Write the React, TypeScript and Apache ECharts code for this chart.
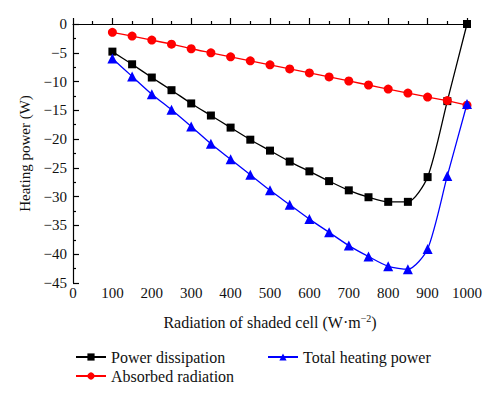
import React, { useEffect, useRef } from "react";
import * as echarts from "echarts";

const xValues = [100, 150, 200, 250, 300, 350, 400, 450, 500, 550, 600, 650, 700, 750, 800, 850, 900, 950, 1000];
const powerDissipation = [-4.8, -7.0, -9.3, -11.5, -13.8, -15.9, -18.0, -20.1, -22.0, -23.9, -25.6, -27.3, -28.9, -30.1, -30.9, -30.9, -26.6, -13.4, 0];
const absorbedRadiation = [-1.45, -2.1, -2.8, -3.5, -4.3, -5.0, -5.7, -6.4, -7.1, -7.8, -8.5, -9.2, -9.9, -10.6, -11.3, -12.0, -12.7, -13.3, -14.1];
const totalHeatingPower = [-6.0, -9.1, -12.2, -14.9, -17.8, -20.8, -23.5, -26.2, -28.9, -31.4, -33.9, -36.2, -38.5, -40.4, -42.1, -42.6, -39.1, -26.4, -13.9];

const seriesNames = ["Power dissipation", "Absorbed radiation", "Total heating power"];
const FONT = "'Liberation Serif', 'DejaVu Serif', serif";

export default function App() {
  const ref = useRef<HTMLDivElement>(null);
  useEffect(() => {
    if (!ref.current) return;
    const chart = echarts.init(ref.current, null, { renderer: "svg" });
    const pair = (ys: number[]) => xValues.map((x, i) => [x, ys[i]]);
    const mk = (name: string, ys: number[], color: string, symbol: string, size: number, z: number) => ({
      name,
      type: "line",
      data: pair(ys),
      smooth: 0.25,
      symbol,
      symbolSize: size,
      showAllSymbol: true,
      z,
      lineStyle: { color, width: 1.3 },
      itemStyle: { color, borderWidth: 0 },
    });
    chart.setOption({
      animation: false,
      backgroundColor: "#ffffff",
      textStyle: { fontFamily: FONT },
      grid: { left: 73, right: 33, top: 24, bottom: 116, containLabel: false },
      legend: [
        {
          data: [seriesNames[0], seriesNames[1]],
          orient: "vertical",
          left: 70,
          top: 344,
          itemWidth: 30,
          itemHeight: 9,
          itemGap: 3,
          textStyle: { fontFamily: FONT, fontSize: 16, color: "#111" },
          selectedMode: false,
        },
        {
          data: [seriesNames[2]],
          orient: "vertical",
          left: 262,
          top: 344,
          itemWidth: 30,
          itemHeight: 9,
          textStyle: { fontFamily: FONT, fontSize: 16, color: "#111" },
          selectedMode: false,
        },
      ],
      xAxis: {
        type: "value",
        min: 0,
        max: 1000,
        interval: 100,
        name: "Radiation of shaded cell (W·m{sup|−2})",
        nameLocation: "middle",
        nameGap: 30,
        nameTextStyle: {
          fontFamily: FONT,
          fontSize: 16,
          color: "#111",
          rich: { sup: { fontSize: 10, fontFamily: FONT, color: "#111", verticalAlign: "top", padding: [0, 0, 8, 0] } },
        },
        axisLine: { show: true, lineStyle: { color: "#000", width: 1.2 } },
        axisTick: { show: true, inside: true, length: 6, lineStyle: { color: "#000", width: 1.2 } },
        minorTick: { show: true, splitNumber: 2, length: 3, lineStyle: { color: "#000", width: 1.2 } },
        axisLabel: { fontFamily: FONT, fontSize: 15, color: "#111", margin: 2, formatter: (v: number) => String(v) },
        splitLine: { show: false },
      },
      yAxis: {
        type: "value",
        min: -45,
        max: 0,
        interval: 5,
        name: "Heating power (W)",
        nameLocation: "middle",
        nameGap: 39,
        nameRotate: 90,
        nameTextStyle: { fontFamily: FONT, fontSize: 15, color: "#111" },
        axisLine: { show: true, lineStyle: { color: "#000", width: 1.2 } },
        axisTick: { show: true, inside: true, length: 6, lineStyle: { color: "#000", width: 1.2 } },
        minorTick: { show: true, splitNumber: 2, length: 3, lineStyle: { color: "#000", width: 1.2 } },
        axisLabel: {
          fontFamily: FONT,
          fontSize: 15,
          color: "#111",
          margin: 6,
          formatter: (v: number) => String(v).replace("-", "\u2212"),
        },
        splitLine: { show: false },
      },
      series: [
        mk(seriesNames[0], powerDissipation, "#000000", "rect", 8, 2),
        mk(seriesNames[1], absorbedRadiation, "#ff0000", "circle", 9, 3),
        mk(seriesNames[2], totalHeatingPower, "#0000ff", "triangle", 10, 4),
      ],
    });
    return () => chart.dispose();
  }, []);
  return <div ref={ref} style={{ width: 500, height: 399, margin: -8 }} />;
}
